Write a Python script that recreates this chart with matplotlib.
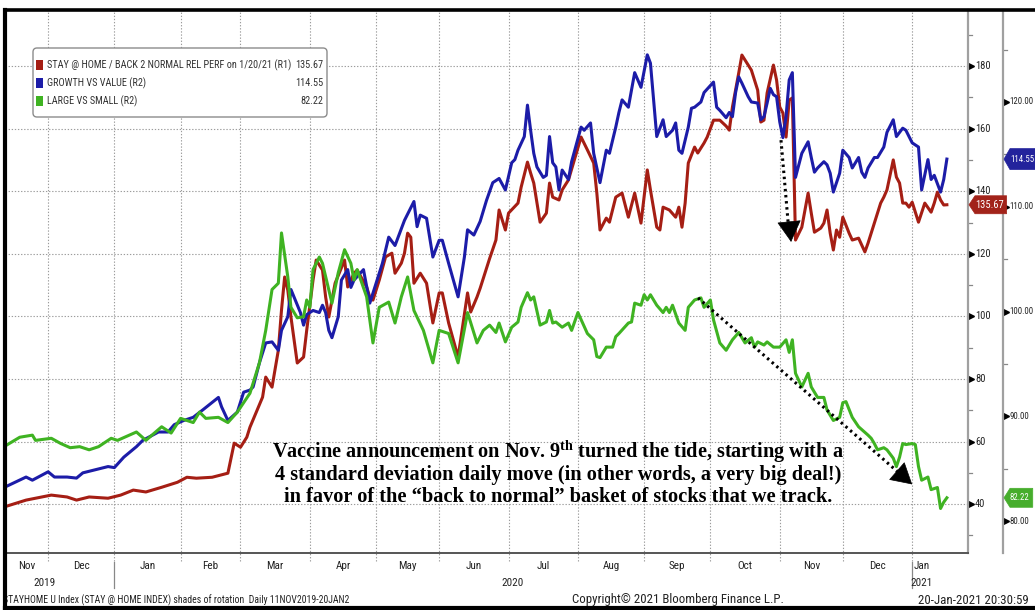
import os
import numpy as np
import pandas as pd
import matplotlib
matplotlib.use("Agg")
import matplotlib.pyplot as plt
from matplotlib import font_manager
from matplotlib.font_manager import FontProperties
from matplotlib.patches import FancyBboxPatch, Rectangle, Polygon
from matplotlib.lines import Line2D
from matplotlib.transforms import IdentityTransform, blended_transform_factory

# ---------------------------------------------------------------- data
# x values are trading sessions counted from 11 Nov 2019 (session 0)
HOLIDAYS = ["2019-11-28", "2019-12-25", "2020-01-01", "2020-01-20", "2020-02-17",
            "2020-04-10", "2020-05-25", "2020-07-03", "2020-09-07", "2020-11-26",
            "2020-12-25", "2021-01-01", "2021-01-18"]
START, END = "2019-11-11", "2021-01-20"

red_label = "STAY @ HOME / BACK 2 NORMAL REL PERF on 1/20/21 (R1)"
blue_label = "GROWTH VS VALUE (R2)"
green_label = "LARGE VS SMALL (R2)"

red_s = [0, 7, 15, 20, 23, 27, 33, 37, 41, 45, 50, 55, 58, 61, 66, 71, 73, 75, 77, 78,
         82, 83, 85, 87, 88, 89, 90, 91, 92, 93, 95, 96, 98, 99, 101, 102, 103, 105, 108, 109,
         111, 112, 115, 116, 117, 119, 121, 123, 124, 126, 127, 128, 129, 130, 132, 134, 136, 138, 139, 141,
         144, 147, 148, 150, 151, 154, 156, 157, 159, 160, 163, 164, 166, 167, 168, 170, 172, 173, 174, 176,
         177, 179, 183, 185, 187, 188, 189, 191, 192, 194, 196, 198, 200, 202, 204, 205, 207, 208, 209, 211,
         213, 214, 215, 216, 217, 219, 220, 222, 223, 225, 227, 229, 230, 231, 233, 234, 237, 239, 240, 241,
         242, 244, 245, 246, 247, 248, 249, 250, 251, 253, 255, 256, 257, 259, 260, 261, 262, 263, 264, 265,
         266, 268, 269, 271, 273, 274, 275, 276, 278, 279, 280, 282, 283, 284, 285, 286, 287, 288, 290, 292,
         294, 295, 296, 297, 298, 299]
red_v = [39.1, 41.3, 42.9, 42.3, 41.3, 42.3, 41.9, 42.9, 44.5, 43.9, 45.4, 47.0, 48.6, 48.3, 48.6, 49.9, 59.5, 58.2, 61.4, 64.6,
         74.2, 80.6, 77.4, 89.2, 102.0, 112.6, 108.4, 99.8, 92.4, 85.1, 87.0, 95.6, 111.6, 118.0, 114.8, 106.2, 99.8, 110.6, 118.0, 109.4,
         113.8, 114.8, 109.4, 106.2, 105.2, 111.6, 119.0, 120.2, 113.8, 117.0, 120.2, 126.6, 125.3, 110.6, 113.8, 110.6, 97.9, 107.5, 107.5, 97.9,
         87.0, 107.5, 101.4, 106.2, 109.0, 118.5, 124.4, 134.0, 127.6, 133.0, 136.2, 141.3, 149.3, 145.8, 142.6, 130.1, 133.0, 142.6, 138.1, 137.2,
         140.4, 143.6, 157.3, 153.2, 149.0, 139.4, 127.6, 131.4, 130.1, 138.1, 139.4, 131.7, 139.4, 129.8, 146.8, 140.4, 128.5, 127.6, 134.9, 134.0,
         131.7, 134.9, 128.5, 136.2, 149.0, 154.1, 152.2, 155.4, 157.3, 162.7, 162.7, 160.8, 159.5, 166.9, 177.8, 183.5, 178.7, 172.3, 162.1, 162.7,
         171.4, 180.3, 175.5, 166.9, 165.0, 157.3, 169.1, 169.8, 124.4, 128.5, 139.4, 133.0, 126.9, 128.2, 129.8, 134.0, 126.6, 121.2, 127.6, 125.3,
         131.7, 126.6, 124.4, 125.0, 120.6, 123.4, 126.6, 129.8, 136.2, 138.1, 140.4, 150.0, 144.5, 142.6, 136.2, 136.2, 134.9, 136.5, 130.1, 136.2,
         133.3, 136.2, 139.7, 137.2, 135.6, 135.67]

blue_s = [0, 7, 9, 14, 16, 20, 23, 25, 29, 33, 35, 38, 42, 44, 49, 52, 54, 57, 60, 63,
          68, 69, 71, 74, 76, 78, 79, 81, 83, 85, 87, 88, 90, 91, 94, 95, 96, 98, 100, 101,
          102, 103, 104, 106, 107, 109, 110, 111, 114, 116, 118, 120, 122, 124, 127, 129, 130, 131, 132, 134,
          136, 138, 139, 141, 144, 146, 147, 149, 151, 153, 155, 157, 159, 161, 162, 163, 165, 166, 167, 168,
          169, 171, 172, 173, 174, 175, 176, 177, 179, 180, 183, 184, 186, 187, 189, 191, 192, 194, 195, 196,
          198, 200, 202, 204, 205, 206, 207, 209, 210, 212, 213, 214, 215, 217, 218, 219, 221, 222, 225, 226,
          227, 229, 230, 231, 232, 233, 234, 236, 237, 239, 240, 241, 242, 243, 244, 245, 246, 247, 248, 249,
          250, 251, 253, 255, 256, 257, 258, 260, 261, 262, 263, 265, 266, 268, 269, 271, 272, 273, 274, 276,
          277, 279, 280, 282, 283, 285, 286, 288, 290, 291, 293, 294, 295, 297, 298, 299]
blue_v = [83.2, 84.2, 83.9, 84.7, 84.2, 84.2, 84.1, 84.6, 84.9, 85.2, 85.1, 86.1, 87.1, 87.7, 88.5, 88.5, 89.2, 89.6, 89.9, 90.6,
          91.8, 90.9, 89.6, 90.4, 92.3, 92.5, 92.8, 95.1, 97.0, 97.1, 96.3, 98.2, 99.5, 102.1, 99.9, 98.7, 99.7, 100.1, 99.9, 100.6,
          99.9, 98.2, 97.5, 99.5, 103.0, 104.0, 102.3, 103.0, 104.0, 100.8, 102.7, 104.6, 107.1, 106.3, 108.7, 109.9, 110.5, 108.1, 109.2, 108.9,
          105.2, 106.8, 106.8, 104.6, 101.4, 105.2, 107.8, 107.3, 108.6, 110.6, 112.3, 112.7, 111.6, 114.2, 114.5, 115.4, 116.7, 119.7, 117.3, 115.1,
          113.8, 112.8, 113.0, 116.7, 114.2, 113.8, 111.6, 113.5, 112.6, 114.3, 117.6, 117.3, 118.0, 115.1, 112.3, 115.4, 115.1, 117.6, 119.0, 120.2,
          119.5, 122.8, 121.4, 124.5, 123.7, 120.2, 116.7, 118.3, 116.7, 117.3, 118.0, 115.4, 115.1, 117.6, 119.4, 119.5, 120.0, 120.9, 121.9, 119.5,
          119.2, 118.5, 119.0, 118.6, 120.9, 122.4, 121.8, 120.5, 120.0, 119.9, 118.3, 118.6, 119.9, 121.3, 120.7, 120.5, 118.1, 116.6, 118.6, 122.1,
          122.8, 112.8, 115.1, 116.2, 114.7, 113.3, 113.7, 114.3, 114.0, 113.2, 111.4, 113.2, 115.4, 114.7, 113.7, 114.7, 113.3, 112.8, 113.7, 114.7,
          114.7, 115.7, 117.1, 118.3, 116.7, 117.5, 117.3, 116.1, 115.7, 111.6, 114.5, 112.6, 113.0, 111.4, 112.6, 114.55]

green_s = [0, 5, 9, 10, 15, 18, 21, 24, 27, 30, 34, 36, 42, 45, 50, 53, 56, 60, 62, 64,
           68, 71, 74, 78, 81, 83, 85, 87, 88, 90, 91, 93, 95, 96, 97, 98, 100, 101, 104, 106,
           108, 110, 111, 112, 115, 117, 119, 122, 124, 126, 128, 130, 133, 136, 138, 141, 144, 147, 150, 152,
           154, 156, 157, 159, 161, 163, 164, 166, 167, 168, 170, 172, 173, 174, 175, 177, 179, 180, 182, 185,
           187, 188, 189, 191, 193, 194, 195, 198, 199, 200, 202, 203, 204, 205, 207, 209, 210, 211, 212, 214,
           216, 217, 219, 221, 222, 224, 225, 227, 229, 231, 233, 235, 237, 238, 239, 241, 242, 244, 246, 248,
           249, 250, 251, 253, 255, 256, 258, 260, 261, 263, 265, 266, 267, 269, 271, 274, 275, 276, 277, 279,
           280, 282, 283, 284, 285, 286, 288, 289, 290, 291, 293, 294, 296, 297, 298, 299]
green_v = [87.1, 88.0, 88.2, 87.7, 87.9, 87.4, 87.0, 87.1, 86.8, 87.1, 87.9, 87.7, 88.5, 87.7, 89.0, 88.4, 89.8, 89.4, 90.4, 89.8,
           89.9, 89.4, 90.4, 92.2, 95.1, 98.2, 102.1, 102.7, 107.5, 103.3, 100.4, 99.4, 99.5, 101.1, 100.4, 104.0, 105.2, 104.6, 100.8, 103.7,
           105.9, 104.6, 103.0, 104.0, 101.4, 97.0, 100.4, 100.9, 98.9, 101.4, 103.3, 100.1, 98.2, 95.1, 98.2, 97.9, 95.1, 99.9, 97.0, 98.2,
           98.7, 98.0, 98.9, 97.1, 98.5, 99.0, 100.4, 101.8, 101.1, 101.4, 98.7, 99.0, 100.1, 98.9, 99.0, 98.5, 98.9, 98.2, 99.9, 97.9,
           97.3, 95.7, 95.6, 96.6, 96.6, 97.6, 97.9, 98.9, 99.0, 100.8, 100.6, 101.6, 101.1, 101.6, 100.6, 99.9, 100.4, 99.9, 100.6, 98.9,
           98.2, 100.4, 101.1, 101.3, 100.4, 101.1, 99.2, 97.0, 96.3, 97.3, 98.0, 97.0, 97.5, 96.6, 97.1, 96.8, 97.1, 96.6, 96.6, 97.3,
           96.1, 97.3, 94.1, 92.8, 94.1, 92.8, 91.8, 91.8, 90.6, 89.6, 89.9, 91.3, 91.4, 89.9, 89.0, 88.2, 87.9, 87.4, 86.8, 87.0,
           86.8, 86.0, 85.2, 86.1, 87.4, 87.3, 87.4, 87.3, 85.2, 83.9, 84.2, 83.0, 83.2, 81.2, 81.8, 82.22]

r1_ticks = [40, 60, 80, 100, 120, 140, 160, 180]
r1_minor = [30, 50, 70, 90, 110, 130, 150, 170, 190]
r2_ticks = [80, 90, 100, 110, 120]
r2_minor = [85, 95, 105, 115, 125]

# arrows: (session, value) for start and tip
drop_arrow = [(246.4, 156.3), (249.6, 123.8)]      # R1 scale
trend_arrow = [(220.1, 101.3), (288.0, 83.5)]      # R2 scale

note_lines = ["Vaccine announcement on Nov. 9$^{\\mathrm{th}}$ turned the tide, starting with a",
              "4 standard deviation daily move (in other words, a very big deal!)",
              "in favor of the \u201cback to normal\u201d basket of stocks that we track."]

footer_left = "STAYHOME U Index (STAY @ HOME INDEX) shades of rotation  Daily 11NOV2019-20JAN2"
footer_mid = "Copyright\u00a9 2021 Bloomberg Finance L.P."
footer_right = "20-Jan-2021 20:30:59"

# ---------------------------------------------------------------- style
RED, BLUE, GREEN = "#a51e14", "#1c1ca8", "#3fb322"
GRID = "#9c9c9c"


def find_narrow():
    prefs = ["liberationsansnarrow", "arialn", "robotocondensed", "notosans-condensed",
             "notosanscondensed", "opensans_condensed", "opensans-condensed",
             "opensanscondensed", "dejavusanscondensed"]
    bad = ("bold", "italic", "oblique", "light", "thin", "medium", "semi", "black",
           "extra", "mono", "serif", "heavy")
    found = {}
    for f in font_manager.fontManager.ttflist:
        fn = os.path.basename(f.fname).lower().replace(" ", "")
        if ("narrow" in fn or "condensed" in fn) and not any(b in fn for b in bad):
            for i, p in enumerate(prefs):
                if p in fn:
                    found.setdefault(i, f.fname)
    if found:
        return FontProperties(fname=found[min(found)])
    for fam in ("Liberation Sans", "Roboto", "DejaVu Sans"):
        try:
            return FontProperties(fname=font_manager.findfont(FontProperties(family=fam),
                                                              fallback_to_default=False))
        except Exception:
            pass
    return FontProperties(family="DejaVu Sans")


NARROW_FP = find_narrow()


def pick_font(*names):
    for n in names:
        try:
            font_manager.findfont(FontProperties(family=n), fallback_to_default=False)
            return n
        except Exception:
            pass
    return "DejaVu Serif"


SERIF = pick_font("Liberation Serif", "DejaVu Serif")
plt.rcParams["mathtext.fontset"] = "custom"
plt.rcParams["mathtext.rm"] = SERIF + ":bold"
plt.rcParams["mathtext.it"] = SERIF + ":bold:italic"
plt.rcParams["mathtext.bf"] = SERIF + ":bold"

W, H = 1035, 610
fig = plt.figure(figsize=(W / 100, H / 100), dpi=100)
fig.patch.set_facecolor("white")
renderer = fig.canvas.get_renderer()


def fx(px):
    return px / W


def fy(py):
    return 1 - py / H


def nfp(size):
    fp = NARROW_FP.copy()
    fp.set_size(size)
    return fp


def width_px(t):
    return t.get_window_extent(renderer).width


def fit(t, target):
    t.set_fontsize(t.get_fontsize() * target / width_px(t))
    return t.get_fontsize()


# label sizes: the inner axis has room, the outer one must stay inside the frame
_probe = fig.text(0, 0, "100.00", fontproperties=nfp(10))
TICK_SIZE = max(fit(_probe, 28), 7.6)
R2_SIZE = fit(_probe, 24.5)
_probe.remove()
LABEL_SIZE = max(TICK_SIZE * 1.05, 8.0)

sessions = pd.bdate_range(START, END, freq="C", holidays=HOLIDAYS)
n_sess = len(sessions)

ax = fig.add_axes([fx(5), fy(553), fx(968) - fx(5), fy(10) - fy(553)])
ax.set_xlim(0.32, 305.7)
ax.set_ylim(24.4, 197.9)
ax2 = ax.twinx()
ax2.set_ylim(76.95, 128.78)

for a in (ax, ax2):
    a.set_xticks([])
    a.set_yticks([])
    a.patch.set_visible(False)
    for sp in ("top", "left"):
        a.spines[sp].set_visible(False)
ax.spines["bottom"].set_color("#555555")
ax.spines["bottom"].set_linewidth(1.4)
ax.spines["right"].set_color("#a0a0a0")
ax.spines["right"].set_linewidth(1.6)
ax2.spines["bottom"].set_visible(False)
ax2.spines["right"].set_position(("outward", 35 * 0.72))
ax2.spines["right"].set_color("#a0a0a0")
ax2.spines["right"].set_linewidth(1.6)

# month starts
months = pd.Series(range(n_sess), index=sessions)
first_idx = months.groupby([sessions.year, sessions.month]).min()
month_keys = list(first_idx.index)
month_starts = list(first_idx.values)

# grid
for s in month_starts[1:]:
    ax.axvline(s, ymin=-0.014, ymax=1, color=GRID, lw=0.8, ls=(0, (1.2, 1.6)),
               clip_on=False, zorder=0)
for v in r1_ticks:
    ax.axhline(v, color=GRID, lw=0.8, ls=(0, (1.2, 1.6)), zorder=0)

# series
ax.plot(red_s, red_v, color=RED, lw=2.2, zorder=3, solid_joinstyle="round")
ax2.plot(blue_s, blue_v, color=BLUE, lw=2.2, zorder=3, solid_joinstyle="round")
ax2.plot(green_s, green_v, color=GREEN, lw=2.2, zorder=3, solid_joinstyle="round")

# y ticks (small triangles with labels)
tr1 = blended_transform_factory(ax.transAxes, ax.transData)
tr2 = blended_transform_factory(ax2.transAxes, ax2.transData)
ax_w_px = 968 - 5
for v in r1_ticks:
    ax.plot([1 + 3 / ax_w_px], [v], marker=">", ms=4, color="black", transform=tr1, clip_on=False)
    ax.text(1 + 7 / ax_w_px, v, str(v), transform=tr1, va="center", ha="left",
            fontproperties=nfp(TICK_SIZE), color="#222222")
for v in r1_minor:
    ax.plot([1, 1 + 4 / ax_w_px], [v, v], color="#888888", lw=0.9, transform=tr1, clip_on=False)
for v in r2_ticks:
    ax2.plot([1 + 38 / ax_w_px], [v], marker=">", ms=4, color="black", transform=tr2, clip_on=False)
    ax2.text(1 + 41 / ax_w_px, v, f"{v:.2f}", transform=tr2, va="center", ha="left",
             fontproperties=nfp(R2_SIZE), color="#222222")
for v in r2_minor:
    ax2.plot([1 + 35 / ax_w_px, 1 + 39 / ax_w_px], [v, v], color="#888888", lw=0.9,
             transform=tr2, clip_on=False)

# x labels: months and years
month_names = ["Jan", "Feb", "Mar", "Apr", "May", "Jun", "Jul", "Aug", "Sep", "Oct", "Nov", "Dec"]
bounds = month_starts + [n_sess - 1]
label_pos = {}
trx = blended_transform_factory(ax.transData, fig.transFigure)
for i, (yr, mo) in enumerate(month_keys):
    lo = 0.32 if i == 0 else bounds[i]
    hi = bounds[i + 1]
    c = (lo + hi) / 2
    if i == len(month_keys) - 1:
        c = lo + 3
    label_pos[(yr, mo)] = c
    ax.text(c, fy(566), month_names[mo - 1], transform=trx, ha="center", va="center",
            fontproperties=nfp(LABEL_SIZE), color="#222222")
years = sorted(set(k[0] for k in month_keys))
for yr in years:
    cs = [label_pos[k] for k in month_keys if k[0] == yr]
    xc = (min(cs) + max(cs)) / 2
    if yr == years[0]:
        xc -= 3
    ax.text(xc, fy(583), str(yr), transform=trx, ha="center", va="center",
            fontproperties=nfp(LABEL_SIZE), color="#222222")
for (yr, mo), s in zip(month_keys, month_starts):
    if mo == 1:
        ax.plot([s, s], [fy(562), fy(588)], transform=trx, color="#888888", lw=0.9, clip_on=False)


# value tags on the axes
def tag(axis, value, x0_px, h_px, color, text, size):
    yd = axis.transData.transform((0, value))[1]
    t = fig.text(fx(x0_px + 6), yd / H, text, ha="left", va="center",
                 fontproperties=nfp(size), color="white", zorder=11)
    x1_px = x0_px + 6 + width_px(t) + 3
    pts = [(x0_px, yd), (x0_px + 6, yd + h_px / 2), (x1_px, yd + h_px / 2),
           (x1_px, yd - h_px / 2), (x0_px + 6, yd - h_px / 2)]
    fig.add_artist(Polygon(pts, closed=True, transform=IdentityTransform(), facecolor=color,
                           edgecolor=color, lw=0.5, zorder=10, clip_on=False))


tag(ax, red_v[-1], 969, 18, "#a2231a", f"{red_v[-1]:.2f}", TICK_SIZE)
tag(ax2, blue_v[-1], 1004, 21, "#23239c", f"{blue_v[-1]:.2f}", R2_SIZE)
tag(ax2, green_v[-1], 1004, 19, "#46ad2c", f"{green_v[-1]:.2f}", R2_SIZE)

# legend box
fig.add_artist(FancyBboxPatch((33, H - 117), 294, 69, boxstyle="round,pad=0,rounding_size=4",
                              transform=IdentityTransform(), facecolor="white",
                              edgecolor="#8c8c8c", lw=1.0, zorder=8))
rows = [(red_label, RED, red_v[-1], 65), (blue_label, BLUE, blue_v[-1], 83),
        (green_label, GREEN, green_v[-1], 101)]
legend_texts = []
for label, col, val, py in rows:
    fig.add_artist(Rectangle((36, H - py - 5), 7, 10, transform=IdentityTransform(),
                             facecolor=col, edgecolor="none", zorder=9))
    t = fig.text(fx(47), fy(py), label, ha="left", va="center",
                 fontproperties=nfp(10), color="#333333", zorder=9)
    v = fig.text(fx(323), fy(py), f"{val:.2f}", ha="right", va="center",
                 fontproperties=nfp(10), color="#333333", zorder=9)
    legend_texts.append((t, v))
LEG_SIZE = fit(legend_texts[0][0], 244)
for t, v in legend_texts:
    t.set_fontsize(LEG_SIZE)
    v.set_fontsize(LEG_SIZE)

# arrows
(a0, a1) = drop_arrow
ax.plot([a0[0], a1[0] - 0.25 * (a1[0] - a0[0])], [a0[1], a1[1] + 0.14 * (a0[1] - a1[1])],
        color="black", lw=2.2, ls=(0, (0.8, 1.2)), zorder=5)
ax.annotate("", xy=a1, xytext=(a1[0] - 0.2 * (a1[0] - a0[0]), a1[1] + 0.2 * (a0[1] - a1[1])),
            arrowprops=dict(arrowstyle="-|>,head_length=0.7,head_width=0.4", color="black",
                            lw=0.5, shrinkA=0, shrinkB=0, mutation_scale=20), zorder=6)
(b0, b1) = trend_arrow
ax2.plot([b0[0], b1[0] - 0.06 * (b1[0] - b0[0])], [b0[1], b1[1] + 0.06 * (b0[1] - b1[1])],
         color="black", lw=2.2, ls=(0, (0.8, 1.2)), zorder=5)
ax2.annotate("", xy=b1, xytext=(b1[0] - 0.06 * (b1[0] - b0[0]), b1[1] + 0.06 * (b0[1] - b1[1])),
             arrowprops=dict(arrowstyle="-|>,head_length=0.7,head_width=0.4", color="black",
                             lw=0.5, shrinkA=0, shrinkB=0, mutation_scale=20), zorder=6)

# note
note_widths = [574, 565, 551]
for py, line, wd in zip([452, 475, 497], note_lines, note_widths):
    t = fig.text(fx(558), fy(py), line, ha="center", va="center", fontsize=14,
                 family=SERIF, weight="bold", color="black", zorder=12)
    fit(t, wd)

# footer
t = fig.text(fx(3), fy(600), footer_left, ha="left", va="center",
             fontproperties=nfp(8), color="#222222")
fit(t, 344)
t = fig.text(fx(678), fy(600), footer_mid, ha="center", va="center",
             fontproperties=nfp(8), color="#222222")
fit(t, 212)
t = fig.text(fx(918), fy(600), footer_right, ha="left", va="center",
             fontproperties=nfp(t.get_fontsize()), color="#222222")
if t.get_window_extent(renderer).x1 > W - 1:
    fit(t, W - 2 - 918)

# outer frame
for xs, ys, lw in [([fx(5), 1.0], [fy(10), fy(10)], 2.6),
                   ([fx(5), fx(5)], [fy(10), 0.0], 3.0),
                   ([fx(5), 1.0], [fy(608), fy(608)], 3.0)]:
    fig.add_artist(Line2D(xs, ys, transform=fig.transFigure, color="black", lw=lw, zorder=20))

fig.savefig("out.png", dpi=100)
